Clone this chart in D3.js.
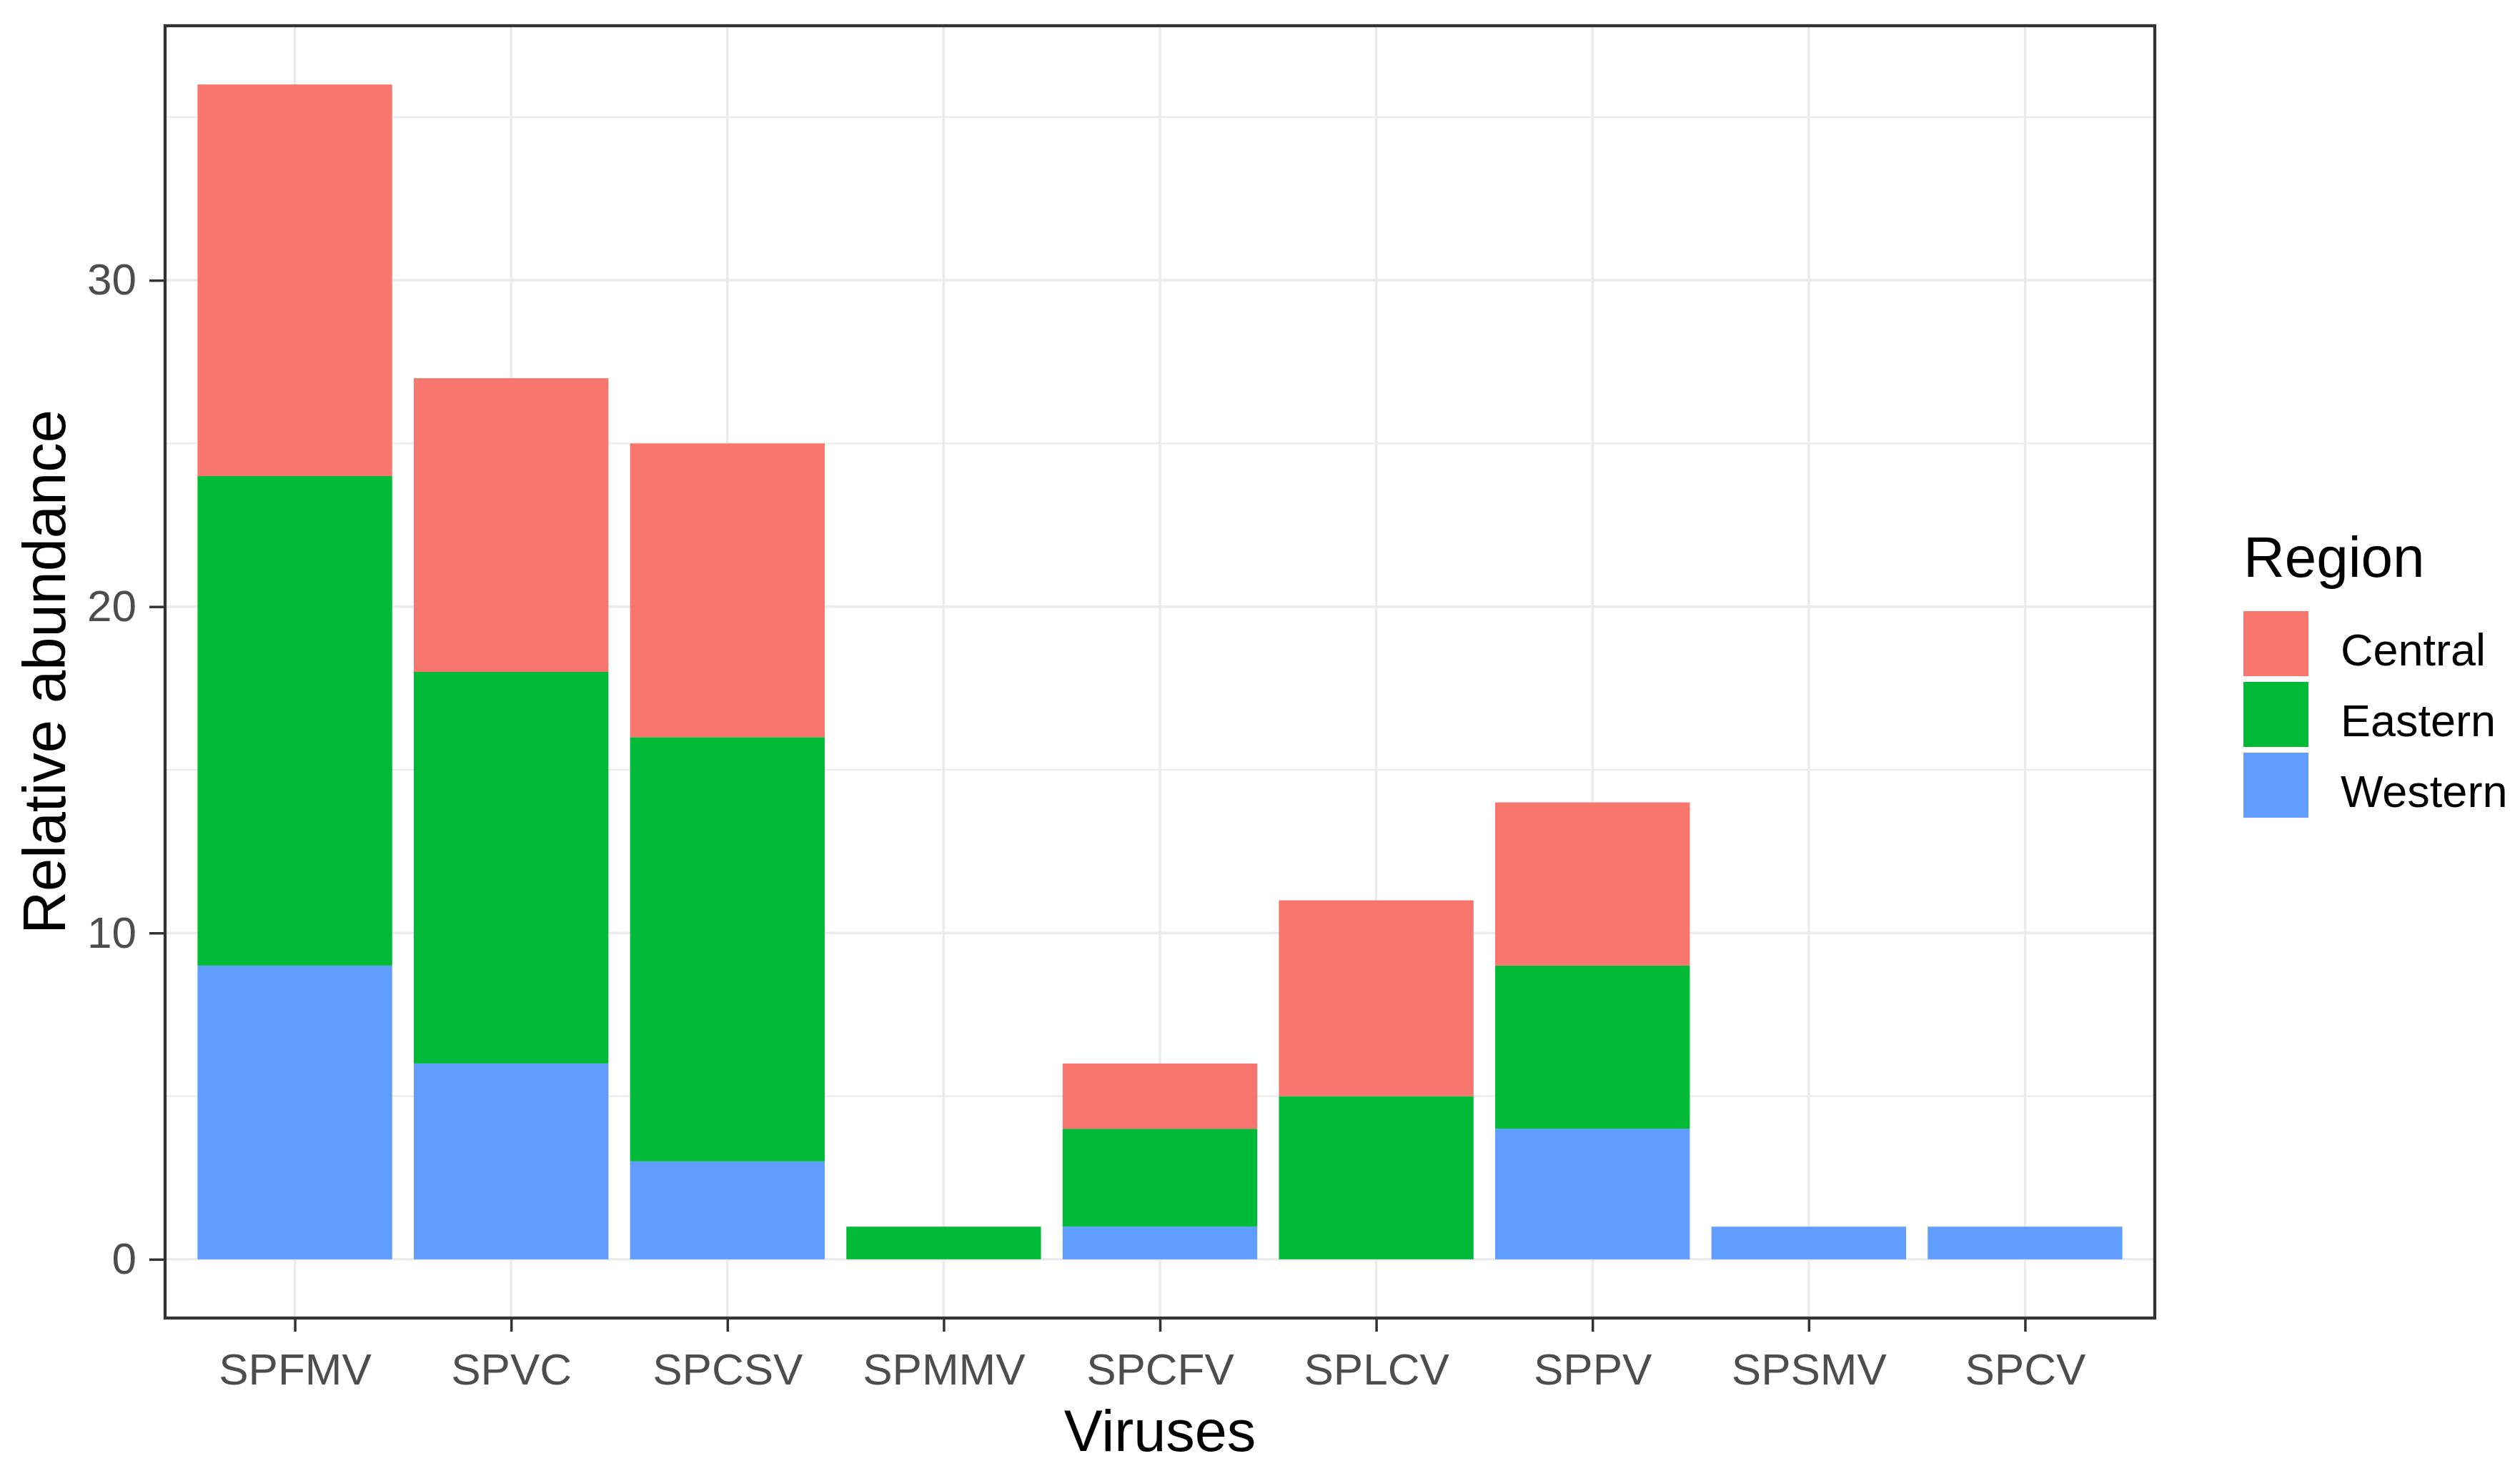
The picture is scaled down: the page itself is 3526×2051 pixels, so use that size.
<!DOCTYPE html>
<html>
<head>
<meta charset="utf-8">
<script src="https://cdn.jsdelivr.net/npm/d3@7"></script>
<style>
  html, body { margin: 0; padding: 0; background: #fff; }
  svg { display: block; }
  text { font-family: "Liberation Sans", Arial, sans-serif; }
</style>
</head>
<body>
<script>
// ---- data ----
const viruses = ["SPFMV", "SPVC", "SPCSV", "SPMMV", "SPCFV", "SPLCV", "SPPV", "SPSMV", "SPCV"];
const western = [9, 6, 3, 0, 1, 0, 4, 1, 1];
const eastern = [15, 12, 13, 1, 3, 5, 5, 0, 0];
const central = [12, 9, 9, 0, 2, 6, 5, 0, 0];
const regions = ["Central", "Eastern", "Western"];
const regionColors = ["#F8766D", "#00BA38", "#619CFF"];
const yMajorTicks = [0, 10, 20, 30];
const yMinorTicks = [5, 15, 25, 35];
const xTitle = "Viruses";
const yTitle = "Relative abundance";
const legendTitle = "Region";

const W = 3526, H = 2051;
const panel = { left: 231, right: 3015, top: 36, bottom: 1844 };

const rows = viruses.map((v, i) => ({ virus: v, Western: western[i], Eastern: eastern[i], Central: central[i] }));
const stackKeys = ["Western", "Eastern", "Central"];
const series = d3.stack().keys(stackKeys)(rows);
const maxTotal = d3.max(rows, d => d.Western + d.Eastern + d.Central);

const x = d3.scalePoint().domain(viruses).range([panel.left, panel.right]).padding(0.6);
const barW = x.step() * 0.9;
const pad = maxTotal * 0.05;
const y = d3.scaleLinear().domain([0 - pad, maxTotal + pad]).range([panel.bottom, panel.top]);
const color = d3.scaleOrdinal().domain(regions).range(regionColors);

const svg = d3.select("body").append("svg").attr("width", W).attr("height", H);
svg.append("rect").attr("width", W).attr("height", H).attr("fill", "#fff");

// gridlines
const grid = svg.append("g");
grid.selectAll(".ymin").data(yMinorTicks).join("line")
  .attr("x1", panel.left).attr("x2", panel.right)
  .attr("y1", d => y(d)).attr("y2", d => y(d))
  .attr("stroke", "#EBEBEB").attr("stroke-width", 2.2);
grid.selectAll(".ymaj").data(yMajorTicks).join("line")
  .attr("x1", panel.left).attr("x2", panel.right)
  .attr("y1", d => y(d)).attr("y2", d => y(d))
  .attr("stroke", "#EBEBEB").attr("stroke-width", 3.5);
grid.selectAll(".xmaj").data(viruses).join("line")
  .attr("x1", d => x(d)).attr("x2", d => x(d))
  .attr("y1", panel.top).attr("y2", panel.bottom)
  .attr("stroke", "#EBEBEB").attr("stroke-width", 3.5);

// bars
svg.append("g").selectAll("g").data(series).join("g")
  .attr("fill", s => color(s.key))
  .selectAll("rect").data(s => s.filter(d => d[1] - d[0] > 0)).join("rect")
  .attr("x", d => x(d.data.virus) - barW / 2)
  .attr("width", barW)
  .attr("y", d => y(d[1]))
  .attr("height", d => y(d[0]) - y(d[1]));

// panel border
svg.append("rect")
  .attr("x", panel.left).attr("y", panel.top)
  .attr("width", panel.right - panel.left).attr("height", panel.bottom - panel.top)
  .attr("fill", "none").attr("stroke", "#333333").attr("stroke-width", 4.3);

// axes
const yAxis = d3.axisLeft(y).tickValues(yMajorTicks).tickSize(22).tickPadding(18).tickFormat(d3.format("d"));
const gy = svg.append("g").attr("transform", `translate(${panel.left},0)`).call(yAxis);
gy.select(".domain").remove();
gy.selectAll(".tick line").attr("stroke", "#333333").attr("stroke-width", 3.5);
gy.selectAll(".tick text").attr("fill", "#4D4D4D").style("font-size", "62px")
  .attr("font-family", "Liberation Sans, Arial, sans-serif");

const xAxis = d3.axisBottom(x).tickSize(19).tickPadding(0);
const gx = svg.append("g").attr("transform", `translate(0,${panel.bottom})`).call(xAxis);
gx.select(".domain").remove();
gx.selectAll(".tick line").attr("stroke", "#333333").attr("stroke-width", 3.5);
gx.selectAll(".tick text").attr("fill", "#4D4D4D").style("font-size", "62px")
  .attr("font-family", "Liberation Sans, Arial, sans-serif")
  .attr("dy", null).attr("y", 1937 - panel.bottom).style("dominant-baseline", "auto");

// axis titles
svg.append("text").attr("x", (panel.left + panel.right) / 2).attr("y", 2030)
  .attr("text-anchor", "middle").style("font-size", "81px").attr("fill", "#000").text(xTitle);
svg.append("text")
  .attr("transform", `translate(91,${(panel.top + panel.bottom) / 2}) rotate(-90)`)
  .attr("text-anchor", "middle").style("font-size", "83px").attr("fill", "#000").text(yTitle);

// legend
const lg = svg.append("g");
lg.append("text").attr("x", 3139).attr("y", 807).style("font-size", "80px").attr("fill", "#000").text(legendTitle);
const keyTop = 855, keyStep = 99, keySize = 91;
regions.forEach((r, i) => {
  lg.append("rect").attr("x", 3139).attr("y", keyTop + i * keyStep)
    .attr("width", keySize).attr("height", keySize).attr("fill", color(r));
  lg.append("text").attr("x", 3275).attr("y", keyTop + i * keyStep + 76)
    .style("font-size", "63px").attr("fill", "#000").text(r);
});
</script>
</body>
</html>
